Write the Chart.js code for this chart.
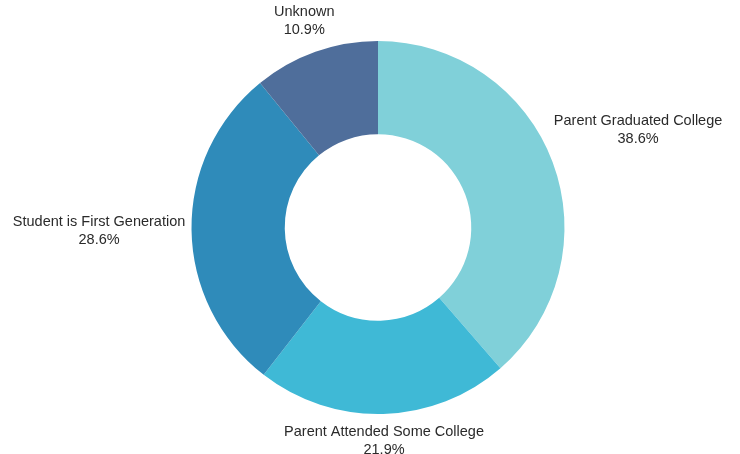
<!DOCTYPE html>
<html>
<head>
<meta charset="utf-8">
<title>First Generation Status</title>
<script src="https://cdn.jsdelivr.net/npm/chart.js@4/dist/chart.umd.min.js"></script>
<style>
    html, body { margin: 0; padding: 0; background: #ffffff; }
    #wrap { width: 740px; height: 454px; position: relative; }
</style>
</head>
<body>
<div id="wrap"><canvas id="genChart"></canvas></div>
<script>
// Phân bố theo trình độ học vấn của phụ huynh (%)
const categories = ['Parent Graduated College', 'Parent Attended Some College', 'Student is First Generation', 'Unknown'];
const percents = [38.6, 21.9, 28.6, 10.9];
const sliceColors = ['#80d0d9', '#3fb9d6', '#2f8bba', '#4f6e9b'];

// Nhãn nằm ngoài vành: hộp chữ đặt theo hướng giữa lát, sát mép ngoài
const outsideLabels = {
    id: 'outsideLabels',
    afterDatasetsDraw(chart) {
        const ctx = chart.ctx;
        const meta = chart.getDatasetMeta(0);
        const lineHeight = 18;
        const gap = 6;
        ctx.save();
        ctx.font = '14.5px "Liberation Sans", Arial, sans-serif';
        ctx.fillStyle = '#2a2a2a';
        ctx.textAlign = 'center';
        ctx.textBaseline = 'middle';
        meta.data.forEach((arc, i) => {
            const p = arc.getProps(['x', 'y', 'startAngle', 'endAngle', 'outerRadius'], true);
            const mid = (p.startAngle + p.endAngle) / 2;
            const dx = Math.cos(mid), dy = Math.sin(mid);
            const lines = [chart.data.labels[i], chart.data.datasets[0].data[i].toFixed(1) + '%'];
            const w = Math.max(...lines.map(t => ctx.measureText(t).width));
            const h = lines.length * lineHeight;
            const extent = (w / 2) * Math.abs(dx) + (h / 2) * Math.abs(dy);
            const dist = p.outerRadius + gap + extent;
            const cx = p.x + dx * dist;
            const cy = p.y + dy * dist;
            lines.forEach((t, k) => {
                ctx.fillText(t, cx, cy - h / 2 + lineHeight * (k + 0.5));
            });
        });
        ctx.restore();
    }
};

document.addEventListener('DOMContentLoaded', function() {
    const ctx = document.getElementById('genChart');
    new Chart(ctx.getContext('2d'), {
        type: 'doughnut',
        data: {
            labels: categories,
            datasets: [{
                data: percents,
                backgroundColor: sliceColors,
                borderWidth: 0
            }]
        },
        options: {
            responsive: true,
            maintainAspectRatio: false,
            animation: false,
            cutout: '50%',
            layout: {
                padding: { top: 41, bottom: 40, left: 191, right: 175 }
            },
            plugins: {
                legend: { display: false },
                tooltip: { enabled: false }
            }
        },
        plugins: [outsideLabels]
    });
});
</script>
</body>
</html>
